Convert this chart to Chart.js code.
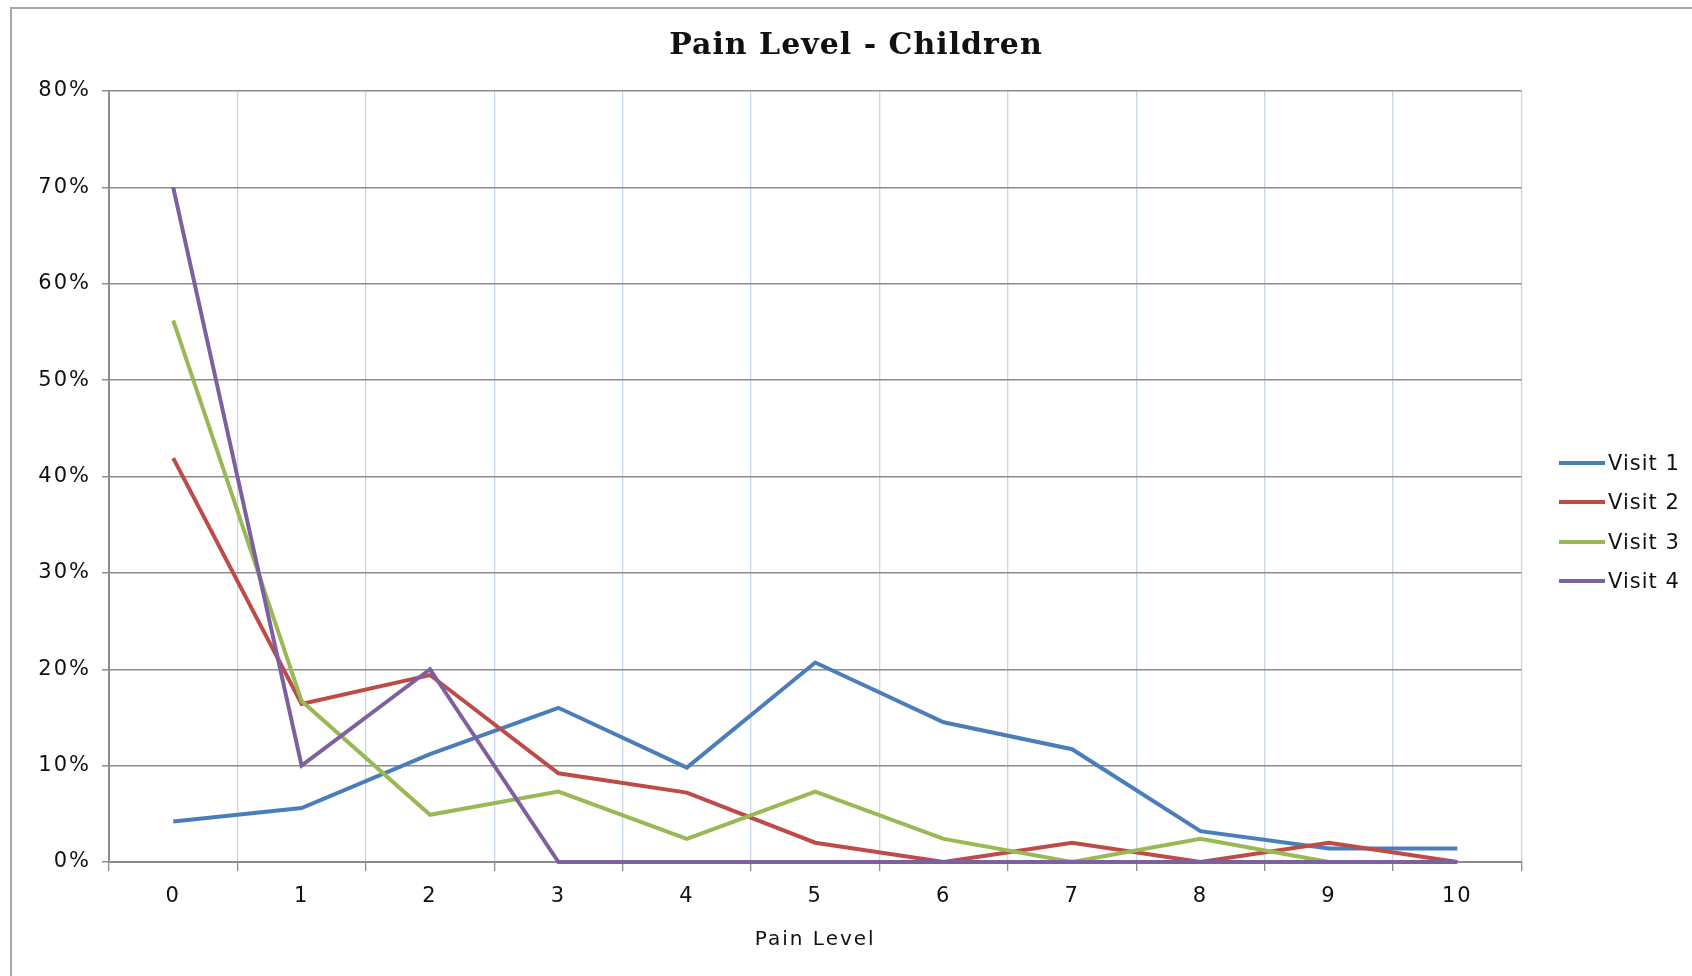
<!DOCTYPE html>
<html>
<head>
<meta charset="utf-8">
<title>Pain Level - Children</title>
<script src="https://cdn.jsdelivr.net/npm/chart.js@4.4.0/dist/chart.umd.min.js"></script>
<style>
  html,body{margin:0;padding:0;background:#fff;overflow:hidden;}
  #frame{position:absolute;left:10px;top:7px;width:1720px;height:1000px;border-left:2px solid #a8a8a8;border-top:2px solid #a8a8a8;}
  #chart{position:absolute;left:0;top:0;}
  #legend{position:absolute;left:1559px;top:0;font-family:"DejaVu Sans",sans-serif;font-size:21px;color:#111;letter-spacing:1px;}
  .item{position:absolute;left:0;white-space:nowrap;display:flex;align-items:center;}
  .swatch{display:inline-block;width:46px;height:4px;margin-right:3px;}
</style>
</head>
<body>
<div id="frame"></div>
<canvas id="chart" width="1692" height="976"></canvas>
<div id="legend"></div>
<script>
// pain level categories on the x axis
const painLevels = ['0','1','2','3','4','5','6','7','8','9','10'];
// share of children (%) at each pain level, per visit
const visit1 = [4.2, 5.6, 11.2, 16.0, 9.8, 20.7, 14.5, 11.7, 3.2, 1.4, 1.4];
const visit2 = [41.9, 16.4, 19.4, 9.2, 7.2, 2.0, 0, 2.0, 0, 2.0, 0];
const visit3 = [56.2, 16.7, 4.9, 7.3, 2.4, 7.3, 2.4, 0, 2.4, 0, 0];
const visit4 = [70.0, 10.0, 20.0, 0, 0, 0, 0, 0, 0, 0, 0];
const seriesNames = ['Visit 1','Visit 2','Visit 3','Visit 4'];
const seriesColors = ['#4a7ebb','#be4b48','#98b954','#7d60a0'];
const yTicks = [0,10,20,30,40,50,60,70,80];

const series = [visit1, visit2, visit3, visit4];
const datasets = series.map((vals,i)=>({
  label: seriesNames[i],
  data: vals,
  borderColor: seriesColors[i],
  backgroundColor: seriesColors[i],
  borderWidth: 4,
  pointRadius: 0,
  tension: 0,
  fill: false,
  clip: false,
  order: series.length - 1 - i   // later visits drawn on top
}));

// the original uses wide fonts; approximate with letter spacing
const spacing = {
  id:'spacing',
  beforeDraw(chart){
    const ctx = chart.ctx;
    ctx.letterSpacing = '2px';
    const tb = chart.titleBlock;
    if(tb && !tb._wrapped){
      const d = tb.draw;
      tb.draw = function(...a){ ctx.letterSpacing='1px'; d.apply(this,a); ctx.letterSpacing='2px'; };
      tb._wrapped = true;
    }
  }
};

new Chart(document.getElementById('chart'), {
  type:'line',
  data:{ labels: painLevels, datasets },
  plugins:[spacing],
  options:{
    responsive:false,
    animation:false,
    devicePixelRatio:1,
    layout:{ padding:{ left:20, right:0, top:0, bottom:0 } },
    plugins:{
      legend:{ display:false },
      tooltip:{ enabled:false },
      title:{
        display:true,
        text:'Pain Level - Children',
        color:'#111',
        font:{ family:'"DejaVu Serif", serif', size:30, weight:'bold' },
        padding:{ top:28, bottom:27 }
      }
    },
    scales:{
      x:{
        type:'category',
        offset:true,
        grid:{ offset:true, color:'#c9d6e6', lineWidth:1.3, tickColor:'#8c8c8c', tickLength:9 },
        border:{ color:'#8c8c8c', width:2 },
        ticks:{ color:'#111', font:{ family:'"DejaVu Sans", sans-serif', size:21 }, padding:13, maxRotation:0 },
        title:{ display:true, text:'Pain Level', color:'#111',
                font:{ family:'"DejaVu Sans", sans-serif', size:20 }, padding:{ top:4, bottom:24 } },
        afterFit(s){ s.height = 114; }
      },
      y:{
        min:0, max:80,
        afterBuildTicks(s){ s.ticks = yTicks.map(v=>({ value:v })); },
        grid:{ color:'#8c8c8c', lineWidth:1.5, tickColor:'#8c8c8c', tickLength:7 },
        border:{ color:'#8c8c8c', width:2 },
        ticks:{ color:'#111', font:{ family:'"DejaVu Sans", sans-serif', size:21 }, padding:11,
                callback:v=>v+'%' },
        afterFit(s){ s.width = 89; }
      },
      yRight:{
        position:'right',
        min:0, max:80,
        grid:{ display:false },
        border:{ display:false },
        ticks:{ display:false },
        afterFit(s){ s.width = 170.5; }
      }
    }
  }
});

// legend built from the series names and colours
const legendTops = [463, 502, 542, 580.5];
const legend = document.getElementById('legend');
seriesNames.forEach((name,i)=>{
  const item = document.createElement('div');
  item.className = 'item';
  item.style.top = (legendTops[i] - 12) + 'px';
  item.style.height = '24px';
  item.innerHTML = `<span class="swatch" style="background:${seriesColors[i]}"></span><span>${name}</span>`;
  legend.appendChild(item);
});
</script>
</body>
</html>
